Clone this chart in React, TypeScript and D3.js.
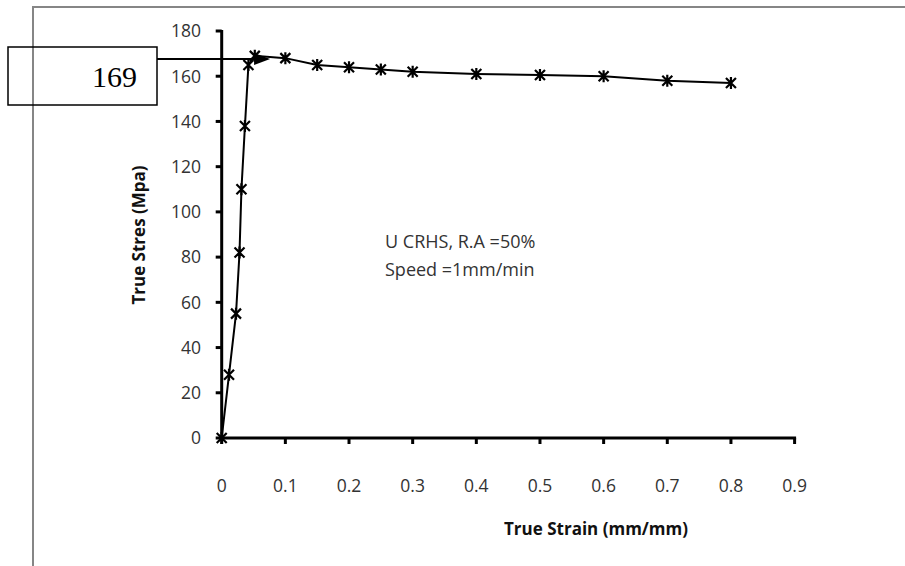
import React from "react";
import * as d3 from "d3";

const strain = [0, 0.0115, 0.0225, 0.028, 0.031, 0.0365, 0.042, 0.052, 0.1, 0.15, 0.2, 0.25, 0.3, 0.4, 0.5, 0.6, 0.7, 0.8];
const stress = [0, 28, 55, 82, 110, 138, 165, 169, 168, 165, 164, 163, 162, 161, 160.5, 160, 158, 157];
const xTicks = [0, 0.1, 0.2, 0.3, 0.4, 0.5, 0.6, 0.7, 0.8, 0.9];
const yTicks = [0, 20, 40, 60, 80, 100, 120, 140, 160, 180];
const calloutLabel = "169";
const calloutStress = 167.6;
const calloutTipStrain = 0.076;
const noteLines = ["U CRHS, R.A =50%", "Speed =1mm/min"];

const W = 905;
const H = 566;
const FONT = "'Open Sans', Lato, sans-serif";

export default function App() {
  const x = d3.scaleLinear().domain([0, 0.9]).range([221.7, 794.6]);
  const y = d3.scaleLinear().domain([0, 180]).range([438, 31]);
  const pts = strain.map((s, i) => [s, stress[i]] as [number, number]);
  const line = d3.line<[number, number]>().x((d) => x(d[0])).y((d) => y(d[1]));

  const ay = y(calloutStress);
  const tip = x(calloutTipStrain);

  return (
    <svg width={W} height={H} style={{ position: "absolute", left: 0, top: 0, background: "#fff" }}>
      <rect x={0} y={0} width={W} height={H} fill="#fff" />
      {/* outer chart border */}
      <rect x={33} y={7} width={W} height={H} fill="none" stroke="#868686" strokeWidth={2} />

      {/* axes */}
      <line x1={x(0)} x2={x(0)} y1={y(180) - 1} y2={y(0) + 1.5} stroke="#000" strokeWidth={3} />
      <line x1={x(0) - 1.5} x2={x(0.9) + 1.5} y1={y(0)} y2={y(0)} stroke="#000" strokeWidth={3} />
      {yTicks.map((t) => (
        <g key={"y" + t}>
          <line x1={x(0) - 6} x2={x(0)} y1={y(t)} y2={y(t)} stroke="#000" strokeWidth={3} />
          <text x={201} y={y(t)} dy="0.36em" textAnchor="end" fontFamily={FONT} fontSize={17.5} fill="#333">
            {t}
          </text>
        </g>
      ))}
      {xTicks.map((t) => (
        <g key={"x" + t}>
          <line x1={x(t)} x2={x(t)} y1={y(0)} y2={y(0) + 6} stroke="#000" strokeWidth={3} />
          <text x={x(t)} y={492} textAnchor="middle" fontFamily={FONT} fontSize={17.5} fill="#333">
            {t}
          </text>
        </g>
      ))}

      {/* axis titles */}
      <text x={596} y={535} textAnchor="middle" fontFamily={FONT} fontWeight="bold" fontSize={17} fill="#111">
        True Strain (mm/mm)
      </text>
      <text
        transform={`translate(145,235) rotate(-90)`}
        textAnchor="middle"
        fontFamily={FONT}
        fontWeight="bold"
        fontSize={17}
        fill="#111"
      >
        True Stres (Mpa)
      </text>

      {/* note */}
      {noteLines.map((l, i) => (
        <text key={l} x={385} y={248 + i * 28} fontFamily={FONT} fontSize={18} fill="#333">
          {l}
        </text>
      ))}

      {/* data line */}
      <path d={line(pts) || ""} fill="none" stroke="#000" strokeWidth={2} />
      {pts.map((d, i) => {
        const cx = x(d[0]);
        const cy = y(d[1]);
        const a = 5;
        const v = 6;
        return (
          <path
            key={i}
            d={`M${cx - a},${cy - a}L${cx + a},${cy + a}M${cx - a},${cy + a}L${cx + a},${cy - a}M${cx},${cy - v}L${cx},${cy + v}`}
            stroke="#000"
            strokeWidth={2.2}
            fill="none"
          />
        );
      })}

      {/* callout */}
      <rect x={8} y={47} width={149} height={58} fill="none" stroke="#000" strokeWidth={1.5} />
      <text x={137} y={87} textAnchor="end" fontFamily="'Liberation Serif', 'Times New Roman', serif" fontSize={30} fill="#000">
        {calloutLabel}
      </text>
      <line x1={157} x2={tip - 14} y1={ay} y2={ay} stroke="#000" strokeWidth={2} />
      <path d={`M${tip},${ay}L${tip - 16},${ay - 6}L${tip - 16},${ay + 6}Z`} fill="#000" />
    </svg>
  );
}
